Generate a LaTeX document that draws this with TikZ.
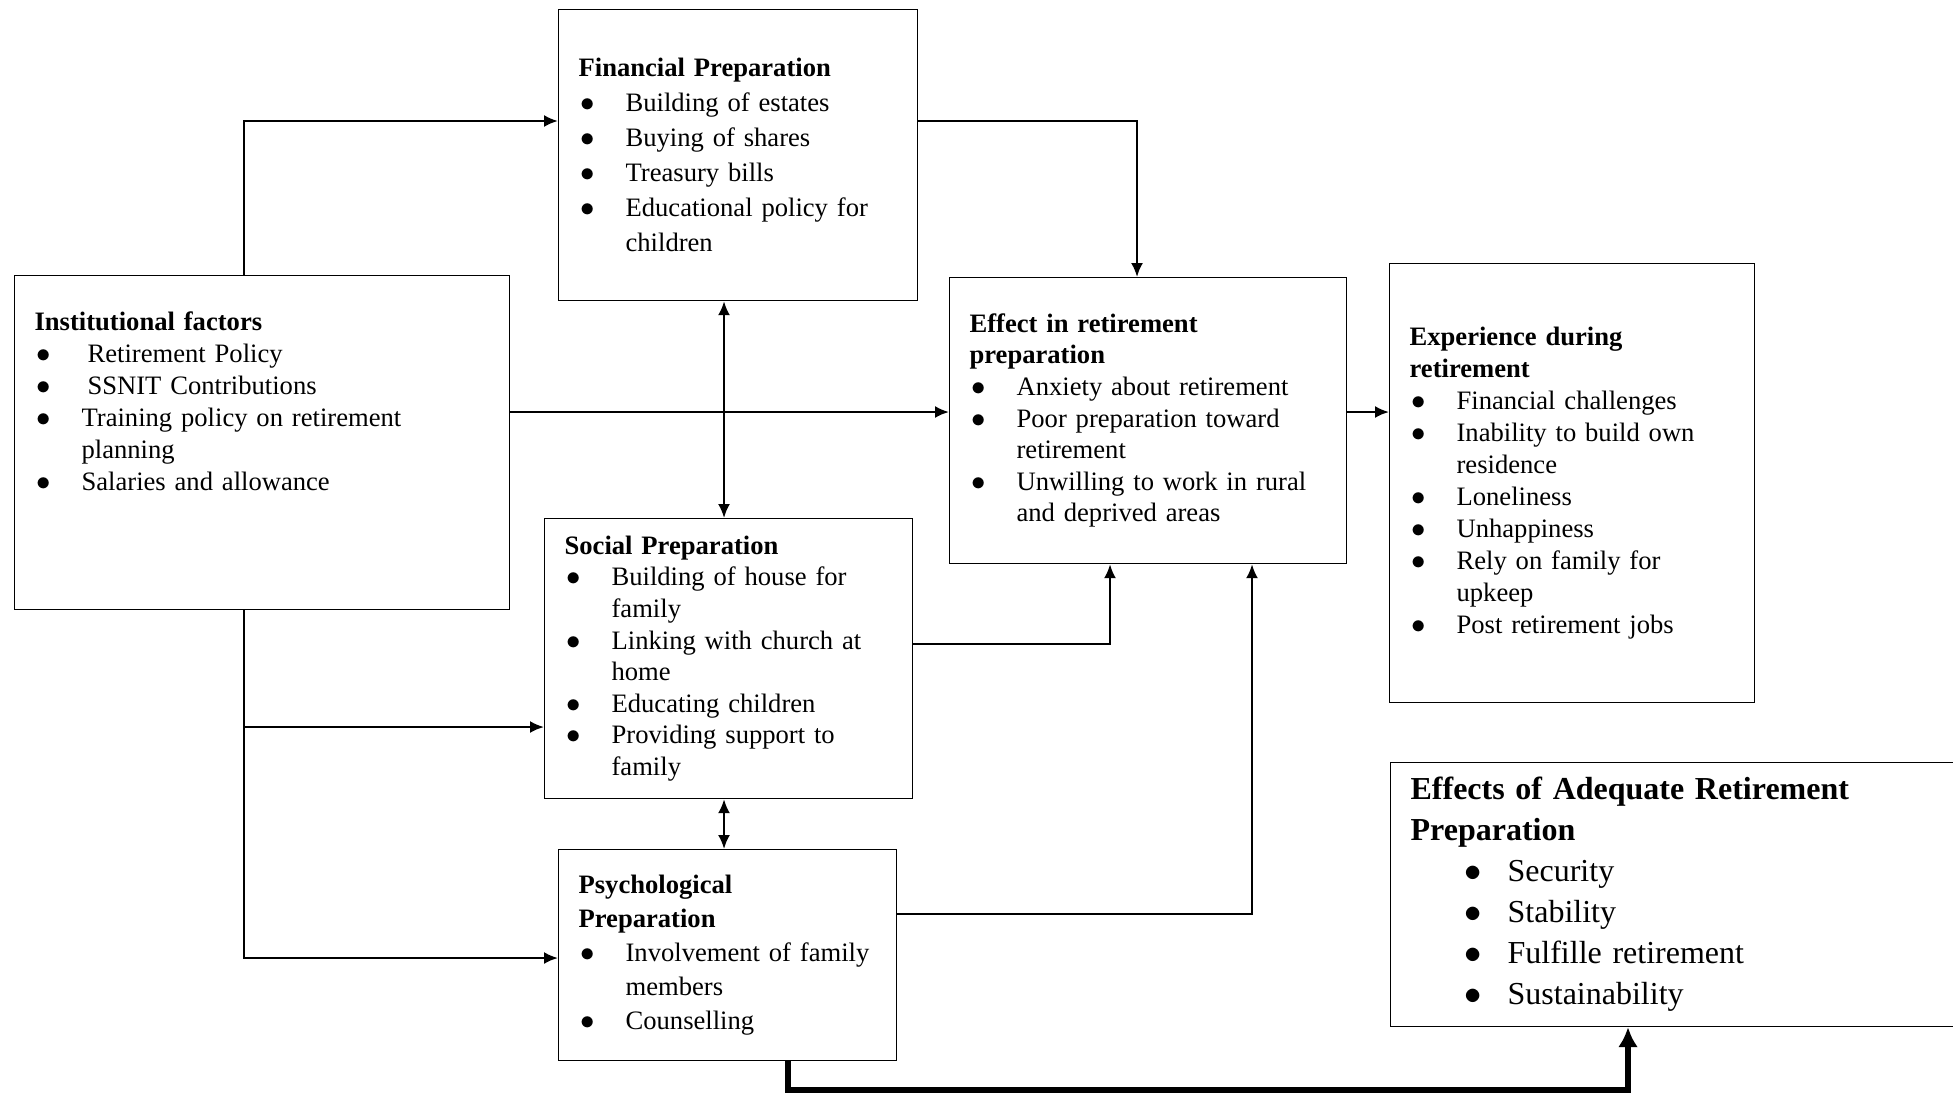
\documentclass[tikz,border=0pt]{standalone}
\usepackage{fontspec}
\setmainfont{Liberation Serif}
\usetikzlibrary{arrows.meta}
\tikzset{>={Latex[length=7pt,width=6pt]}}
\tikzstyle{box} = [draw, line width=0.6pt, anchor=north west, inner xsep=10pt, inner ysep=0pt, align=left]
\tikzstyle{link} = [->, line width=1.1pt]
\tikzstyle{biglink} = [-{Latex[length=10pt,width=10pt]}, line width=3.4pt]

\newcommand{\itm}[1]{\par\hangindent=23.5pt\hangafter=1\noindent\hspace*{1pt}\makebox[22.5pt][l]{$\bullet$}#1}
\newcommand{\bigitm}[1]{\par\hangindent=48.5pt\hangafter=1\noindent\hspace*{27pt}\makebox[21.5pt][l]{$\bullet$}#1}

\begin{document}
\begin{tikzpicture}[x=0.5pt, y=-0.5pt]
\useasboundingbox (0,0) rectangle (1953,1098);

% boxes
\node [box, text width=159.5pt, minimum height=145.5pt, font=\fontsize{13.3}{17.5}\selectfont] (fin) at (558,9) {\textbf{Financial Preparation}\itm{Building of estates}\itm{Buying of shares}\itm{Treasury bills}\itm{Educational policy for\newline children}\par};
\node [box, text width=227.5pt, minimum height=167pt, font=\fontsize{13.3}{16}\selectfont] (inst) at (14,275) {\textbf{Institutional factors}\itm{\hspace*{3pt}Retirement Policy}\itm{\hspace*{3pt}SSNIT Contributions}\itm{Training policy on retirement\newline planning}\itm{Salaries and allowance}\par\noindent\rule{0pt}{40pt}\par};
\node [box, text width=178.5pt, minimum height=143pt, font=\fontsize{13.3}{15.8}\selectfont] (eff) at (949,277) {\textbf{Effect in retirement\newline preparation}\itm{Anxiety about retirement}\itm{Poor preparation toward\newline retirement}\itm{Unwilling to work in rural\newline and deprived areas}\par};
\node [box, text width=162.5pt, minimum height=219.5pt, font=\fontsize{13.3}{16}\selectfont] (exp) at (1389,263) {\textbf{Experience during\newline retirement}\itm{Financial challenges}\itm{Inability to build own\newline residence}\itm{Loneliness}\itm{Unhappiness}\itm{Rely on family for\newline upkeep}\itm{Post retirement jobs}\par};
\node [box, text width=164pt, minimum height=140pt, font=\fontsize{13.3}{15.8}\selectfont] (soc) at (544,518) {\textbf{Social Preparation}\itm{Building of house for\newline family}\itm{Linking with church at\newline home}\itm{Educating children}\itm{Providing support to\newline family}\par};
\node [box, text width=149pt, minimum height=105.5pt, font=\fontsize{13.3}{17}\selectfont] (psy) at (558,849) {\textbf{Psychological\newline Preparation}\itm{Involvement of family\newline members}\itm{Counselling}\par};
\node [box, text width=280pt, minimum height=132pt, font=\fontsize{16}{20.5}\selectfont] (ade) at (1390,762) {\textbf{Effects of Adequate Retirement\newline Preparation}\bigitm{Security}\bigitm{Stability}\bigitm{Fulfille retirement}\bigitm{Sustainability}\par};

% bends of the connectors
\coordinate (top) at (244,121);
\coordinate (mid) at (0,412);
\coordinate (soc in) at (0,727);
\coordinate (psy in) at (0,958);
\coordinate (fin out) at (1137,0);
\coordinate (vert) at (724,0);
\coordinate (soc out) at (1110,644);
\coordinate (psy out) at (1252,914);
\coordinate (loop a) at (788,1090);
\coordinate (loop b) at (1628,1090);

\draw [link] (inst.north -| top) |- (fin.west |- top);
\draw [link] (inst.east |- mid) -- (eff.west |- mid);
\draw [link] (fin.east |- top) -| (eff.north -| fin out);
\draw [link, <->] (fin.south -| vert) -- (soc.north -| vert);
\draw [link] (eff.east |- mid) -- (exp.west |- mid);
\draw [link] (soc.east |- soc out) -| (eff.south -| soc out);
\draw [link] (psy.east |- psy out) -| (eff.south -| psy out);
\draw [link] (inst.south -| top) |- (psy.west |- psy in);
\draw [link] (top |- soc in) -- (soc.west |- soc in);
\draw [link, <->] (soc.south -| vert) -- (psy.north -| vert);
\draw [biglink] (psy.south -| loop a) |- (loop b) -- (ade.south -| loop b);
\end{tikzpicture}
\end{document}
